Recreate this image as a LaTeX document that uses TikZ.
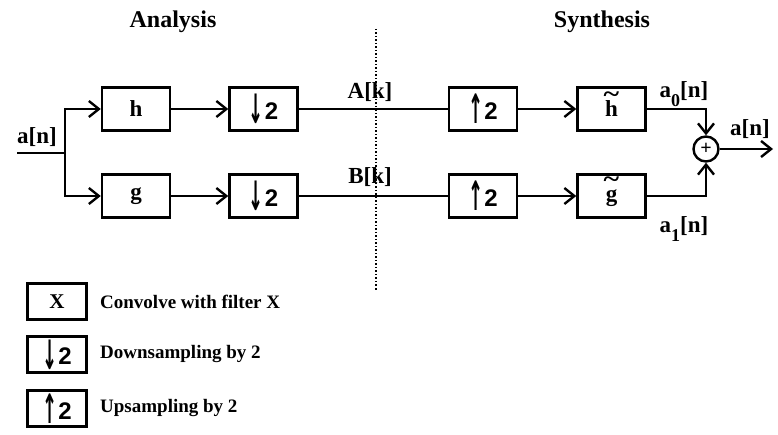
\documentclass[tikz,border=0pt]{standalone}
\usepackage{fontspec}
\usepackage{graphicx}
\setmainfont{Liberation Serif}
\newfontfamily\symfont{Liberation Sans}
\newfontfamily\arrfont{DejaVu Sans}
\usetikzlibrary{arrows.meta}
\newcommand{\dn}{\raisebox{-0.2em}{\scalebox{0.6}[1.35]{\arrfont\bfseries\fontsize{30}{30}\selectfont ↓}}\kern1pt{\symfont\bfseries\fontsize{24}{26}\selectfont 2}}
\newcommand{\up}{\raisebox{-0.2em}{\scalebox{0.6}[1.35]{\arrfont\bfseries\fontsize{30}{30}\selectfont ↑}}\kern1pt{\symfont\bfseries\fontsize{24}{26}\selectfont 2}}
\newcommand{\tld}[1]{\ooalign{#1\cr\hidewidth\raisebox{0.62em}{\scalebox{1.3}[1.1]{\char"7E}}\hidewidth\cr}}
\begin{document}
\begin{tikzpicture}[x=1pt,y=-1pt,
  blk/.style={draw,line width=2.4pt,minimum width=68pt,minimum height=43pt,inner sep=0pt,font=\bfseries\fontsize{23}{26}\selectfont},
  lgd/.style={draw,line width=2.4pt,minimum width=59pt,minimum height=36pt,inner sep=0pt,font=\bfseries\fontsize{21}{24}\selectfont},
  lbl/.style={font=\bfseries\fontsize{23}{26}\selectfont,inner sep=0pt},
  ttl/.style={font=\bfseries\fontsize{24}{28}\selectfont,inner sep=0pt},
  ltxt/.style={font=\bfseries\fontsize{19}{22}\selectfont,inner sep=0pt,anchor=west},
  wire/.style={line width=2.4pt},
  arr/.style={wire,-{Straight Barb[length=10pt,width=16pt,line width=2.4pt]}},
]
\useasboundingbox (0,0) rectangle (778,435);
% titles
\node[ttl] (ana) at (173,22) {Analysis};
\node[ttl] (syn) at (602,22) {Synthesis};
% divider
\coordinate (dtop) at (376,29);
\coordinate (dbot) at (376,290);
\draw[line width=1.5pt,dotted] (dtop) -- (dbot);
% blocks
\node[blk] (h)  at (136,109) {h};
\node[blk] (d1) at (263.5,109) {\dn};
\node[blk] (u1) at (483,109) {\up};
\node[blk] (ht) at (611.5,109) {\tld{h}};
\node[blk] (g)  at (136,196) {g};
\node[blk] (d2) at (263.5,196) {\dn};
\node[blk] (u2) at (483,196) {\up};
\node[blk] (gt) at (611.5,196) {\tld{g}};
\node[draw,circle,line width=2.4pt,minimum size=25pt,inner sep=0pt,font=\bfseries\fontsize{20}{20}\selectfont] (sum) at (706,149) {+};
% input
\coordinate (in) at (17,153);
\coordinate (split) at (65,153);
\coordinate (out) at (773,149);
\node[lbl] (lin) at (37,137) {a[n]};
\draw[wire] (in) -- (split);
\draw[arr] (split) |- (h.west);
\draw[arr] (split) |- (g.west);
\draw[arr] (h) -- (d1);
\draw[arr] (g) -- (d2);
\draw[wire] (d1) -- (u1);
\draw[wire] (d2) -- (u2);
\draw[arr] (u1) -- (ht);
\draw[arr] (u2) -- (gt);
\draw[arr] (ht.east) -| (sum.north);
\draw[arr] (gt.east) -| (sum.south);
\draw[arr] (sum.east) -- (out);
% labels
\node[lbl] (la) at (370,92) {A[k]};
\node[lbl] (lb) at (370,177) {B[k]};
\node[lbl] (la0) at (684,94) {a\raisebox{-0.4em}{\fontsize{18}{20}\selectfont 0}[n]};
\node[lbl] (la1) at (684,229) {a\raisebox{-0.4em}{\fontsize{18}{20}\selectfont 1}[n]};
\node[lbl] (lout) at (750,129) {a[n]};
% legend
\node[lgd] (lx) at (57,301.5) {X};
\node[lgd] (ld) at (57,354.5) {\dn};
\node[lgd] (lu) at (57,408.5) {\up};
\node[ltxt] (tx) at (100,301.5) {Convolve with filter X};
\node[ltxt] (td) at (100,354.5) {Downsampling by 2};
\node[ltxt] (tu) at (100,408.5) {Upsampling by 2};
\end{tikzpicture}
\end{document}
